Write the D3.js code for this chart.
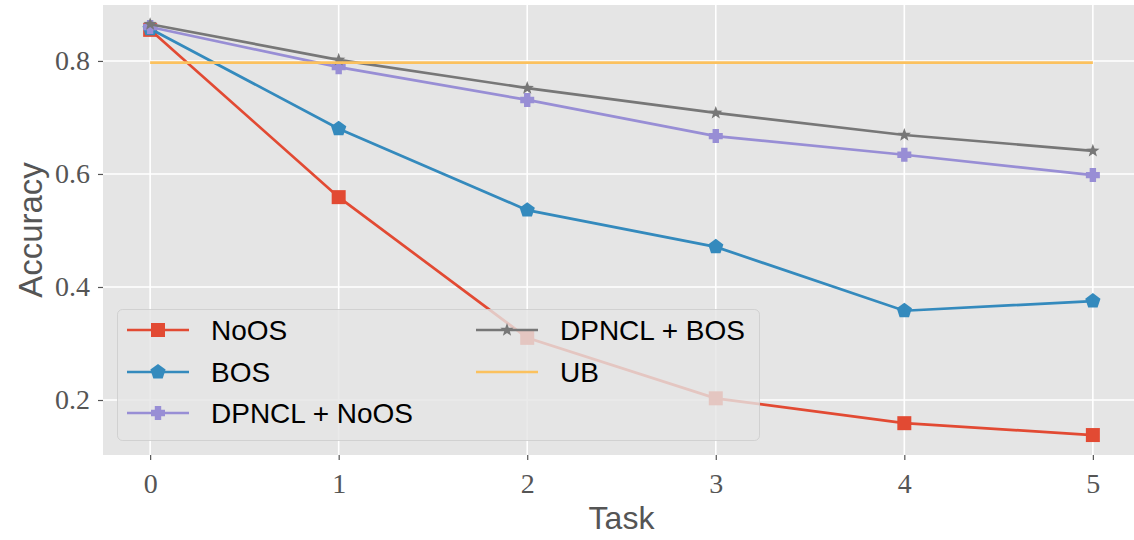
<!DOCTYPE html>
<html>
<head>
<meta charset="utf-8">
<script src="https://cdn.jsdelivr.net/npm/d3@7"></script>
<style>
  body { margin: 0; background: #fff; }
  svg { display: block; }
</style>
</head>
<body>
<svg width="1134" height="540"></svg>
<script>
// data
var tasks = [0, 1, 2, 3, 4, 5];
var noos = [0.855, 0.559, 0.310, 0.203, 0.159, 0.138];
var bos = [0.857, 0.680, 0.536, 0.471, 0.358, 0.375];
var dpnclNoos = [0.860, 0.789, 0.731, 0.667, 0.634, 0.598];
var dpnclBos = [0.865, 0.802, 0.752, 0.708, 0.669, 0.641];
var ub = [0.797, 0.797, 0.797, 0.797, 0.797, 0.797];
var yTicks = [0.2, 0.4, 0.6, 0.8];

var series = [
    {name: "NoOS", values: noos, color: "#E24A33", marker: "square"},
    {name: "BOS", values: bos, color: "#348ABD", marker: "pentagon"},
    {name: "DPNCL + NoOS", values: dpnclNoos, color: "#988ED5", marker: "plus"},
    {name: "DPNCL + BOS", values: dpnclBos, color: "#777777", marker: "star"},
    {name: "UB", values: ub, color: "#FBC15E", marker: null}
];

var svg = d3.select("svg");
var pLeft = 103, pRight = 1140, pTop = 5, pBottom = 455;

var x = d3.scaleLinear().domain([-0.25, 5.25]).range([pLeft, pRight]);
var y = d3.scaleLinear().domain([0.1027, 0.899]).range([pBottom, pTop]);

svg.append("defs").append("clipPath").attr("id", "clip")
    .append("rect")
    .attr("x", pLeft).attr("y", pTop)
    .attr("width", 1134 - pLeft).attr("height", pBottom - pTop);

svg.append("rect")
    .attr("x", pLeft).attr("y", pTop)
    .attr("width", 1134 - pLeft).attr("height", pBottom - pTop)
    .attr("fill", "#E5E5E5");

// grid
var grid = svg.append("g").attr("clip-path", "url(#clip)");
grid.selectAll(".gx").data(tasks).enter().append("line")
    .attr("x1", d => x(d)).attr("x2", d => x(d))
    .attr("y1", pTop).attr("y2", pBottom)
    .attr("stroke", "#fff").attr("stroke-width", 1.6);
grid.selectAll(".gy").data(yTicks).enter().append("line")
    .attr("x1", pLeft).attr("x2", 1134)
    .attr("y1", d => y(d)).attr("y2", d => y(d))
    .attr("stroke", "#fff").attr("stroke-width", 1.6);

// axes
var xAxis = svg.append("g")
    .attr("transform", "translate(0," + pBottom + ")")
    .call(d3.axisBottom(x).tickValues(tasks).tickFormat(d3.format("d")).tickSize(5).tickPadding(9));
var yAxis = svg.append("g")
    .attr("transform", "translate(" + pLeft + ",0)")
    .call(d3.axisLeft(y).tickValues(yTicks).tickFormat(d3.format(".1f")).tickSize(5).tickPadding(8));

[xAxis, yAxis].forEach(function (a) {
    a.select(".domain").remove();
    a.selectAll(".tick line").attr("stroke", "#555").attr("stroke-width", 1.2);
    a.selectAll(".tick text")
        .attr("fill", "#555")
        .style("font-family", "'Liberation Serif', 'DejaVu Serif', serif")
        .style("font-size", "28px");
});
xAxis.selectAll(".tick text").attr("dy", "0.85em");

svg.append("text")
    .attr("x", (pLeft + pRight) / 2).attr("y", 529)
    .attr("text-anchor", "middle")
    .attr("fill", "#555")
    .style("font-family", "'Liberation Sans', Arial, sans-serif")
    .style("font-size", "32px")
    .text("Task");

svg.append("text")
    .attr("transform", "translate(42," + ((pTop + pBottom) / 2) + ") rotate(-90)")
    .attr("text-anchor", "middle")
    .attr("fill", "#555")
    .style("font-family", "'Liberation Sans', Arial, sans-serif")
    .style("font-size", "33px")
    .text("Accuracy");

function markerPath(type) {
    var pts = [], i, a;
    if (type === "square") return "M-7,-7H7V7H-7Z";
    if (type === "star") {
        for (i = 0; i < 10; i++) {
            a = -Math.PI / 2 + i * Math.PI / 5;
            var r = i % 2 ? 2.9 : 7;
            pts.push([r * Math.cos(a), r * Math.sin(a)]);
        }
        return "M" + pts.join("L") + "Z";
    }
    if (type === "pentagon") {
        for (i = 0; i < 5; i++) {
            a = -Math.PI / 2 + i * 2 * Math.PI / 5;
            pts.push([8 * Math.cos(a), 8 * Math.sin(a)]);
        }
        return "M" + pts.join("L") + "Z";
    }
    if (type === "plus") {
        var h = 7, t = 3.2;
        return "M" + [[-t, -h], [t, -h], [t, -t], [h, -t], [h, t], [t, t], [t, h], [-t, h], [-t, t], [-h, t], [-h, -t], [-t, -t]].join("L") + "Z";
    }
    return null;
}

var line = d3.line().x((d, i) => x(tasks[i])).y(d => y(d));
var plot = svg.append("g").attr("clip-path", "url(#clip)");

series.forEach(function (s) {
    var g = plot.append("g");
    g.append("path")
        .attr("d", line(s.values))
        .attr("fill", "none")
        .attr("stroke", s.color)
        .attr("stroke-width", 2.7);
    if (s.marker) {
        g.selectAll("path.m").data(s.values).enter().append("path")
            .attr("class", "m")
            .attr("d", markerPath(s.marker))
            .attr("transform", (d, i) => "translate(" + x(tasks[i]) + "," + y(d) + ")")
            .attr("fill", s.color);
    }
});

// legend
var legend = svg.append("g");
legend.append("rect")
    .attr("x", 117.5).attr("y", 309.5)
    .attr("width", 642).attr("height", 131)
    .attr("rx", 5)
    .attr("fill", "#E5E5E5").attr("fill-opacity", 0.8)
    .attr("stroke", "#cccccc").attr("stroke-opacity", 0.8);

var colX = [127, 476];
var rowY = [330, 372, 413];
series.forEach(function (s, i) {
    var cx = colX[Math.floor(i / 3)], cy = rowY[i % 3];
    var item = legend.append("g").attr("transform", "translate(" + cx + "," + cy + ")");
    item.append("line")
        .attr("x1", 0).attr("x2", 62)
        .attr("stroke", s.color).attr("stroke-width", 2.7);
    if (s.marker) {
        item.append("path")
            .attr("d", markerPath(s.marker))
            .attr("transform", "translate(31,0)")
            .attr("fill", s.color);
    }
    item.append("text")
        .attr("x", 84).attr("dy", "0.35em")
        .attr("fill", "#000")
        .style("font-family", "'Liberation Sans', Arial, sans-serif")
        .style("font-size", "28px")
        .text(s.name);
});
</script>
</body>
</html>
